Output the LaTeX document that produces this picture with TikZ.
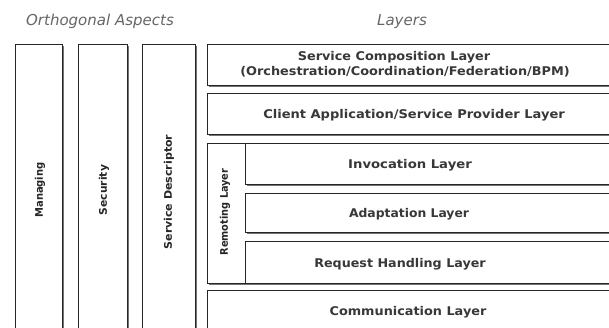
\documentclass[tikz,border=0pt]{standalone}
\usepackage{fontspec}
\setmainfont{DejaVu Sans}
\usetikzlibrary{shadows}
\begin{document}
\begin{tikzpicture}[x=1pt,y=-1pt,
  box/.style={draw=black!85, line width=0.8pt, fill=white, anchor=north west,
    inner sep=0pt, outer sep=0pt,
    drop shadow={shadow xshift=1.6pt, shadow yshift=-1.6pt, opacity=1, fill=black!55}},
  lbl/.style={font=\bfseries\fontsize{12}{14}\selectfont, text=black!78, inner sep=0pt},
  vlbl/.style={font=\bfseries\fontsize{10.5}{12}\selectfont, text=black!85, inner sep=0pt, rotate=90},
  head/.style={font=\itshape\fontsize{15}{17}\selectfont, text=black!60, inner sep=0pt}]
\clip (0,0) rectangle (609,327);
\fill[white] (0,0) rectangle (609,327);

% headings
\node[head] (orth) at (100,21) {Orthogonal Aspects};
\node[head] (lay) at (402,22) {Layers};

% orthogonal aspect columns
\node[box, minimum width=47pt, minimum height=300pt] (mgmt) at (15,44) {};
\node[box, minimum width=49pt, minimum height=300pt] (sec) at (78,44) {};
\node[box, minimum width=53pt, minimum height=300pt] (sd) at (142,44) {};
\node[vlbl] (mgmtlbl) at (40,190) {\scalebox{0.95}[1]{Managing}};
\node[vlbl] (seclbl) at (104,190) {\scalebox{1.02}[1]{Security}};
\node[vlbl] (sdlbl) at (169,192) {\scalebox{1.05}[1]{Service Descriptor}};

% layer stack
\node[box, minimum width=420pt, minimum height=41pt] (comp) at (207,44) {};
\node[box, minimum width=420pt, minimum height=41pt] (client) at (207,93) {};
\node[box, minimum width=420pt, minimum height=140pt] (remote) at (207,143) {};
\node[box, minimum width=380pt, minimum height=41pt] (invoc) at (245,143) {};
\node[box, minimum width=380pt, minimum height=39pt] (adapt) at (245,193) {};
\node[box, minimum width=380pt, minimum height=42pt] (req) at (245,241) {};
\node[box, minimum width=420pt, minimum height=60pt] (comm) at (207,290) {};

\node[lbl] (complbl) at (394,57) {\scalebox{1.07}[1]{Service Composition Layer}};
\node[lbl] (orchlbl) at (405,72) {\scalebox{1.07}[1]{(Orchestration/Coordination/Federation/BPM)}};
\node[lbl] (clientlbl) at (414,115) {\scalebox{1.086}[1]{Client Application/Service Provider Layer}};
\node[vlbl] (remotelbl) at (225,212) {\scalebox{0.93}[1]{Remoting Layer}};
\node[lbl] (invoclbl) at (410,165) {\scalebox{1.1}[1]{Invocation Layer}};
\node[lbl] (adaptlbl) at (409,214) {\scalebox{1.03}[1]{Adaptation Layer}};
\node[lbl] (reqlbl) at (400,264) {\scalebox{1.06}[1]{Request Handling Layer}};
\node[lbl] (commlbl) at (408,312) {\scalebox{1.07}[1]{Communication Layer}};
\end{tikzpicture}
\end{document}
